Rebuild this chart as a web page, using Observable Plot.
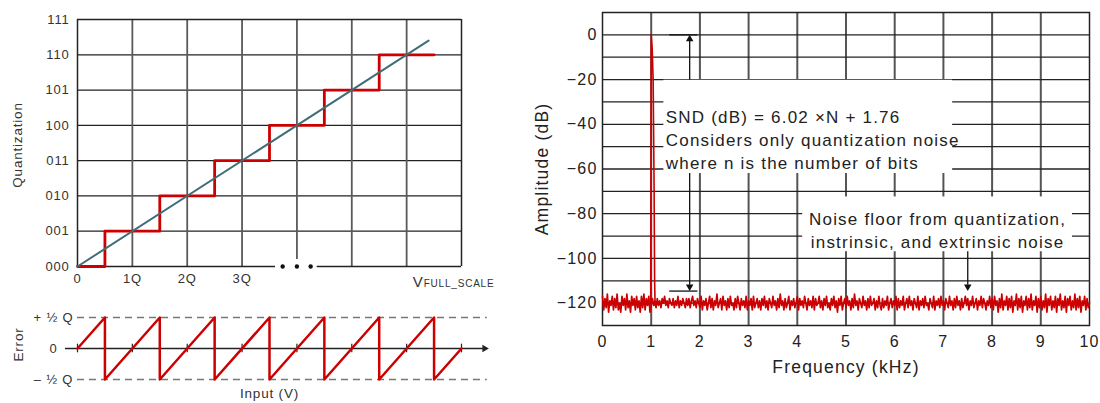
<!DOCTYPE html>
<html><head><meta charset="utf-8">
<script src="https://cdn.jsdelivr.net/npm/d3@7"></script>
<script src="https://cdn.jsdelivr.net/npm/@observablehq/plot@0.6"></script>
<style>
body{margin:0;background:#fff}
#wrap{position:relative;width:1100px;height:403px;overflow:hidden;background:#fff}
#wrap svg{position:absolute}
</style>
</head><body><div id="wrap"></div>
<script>
// ---------- data ----------
const quantLevels = ["000","001","010","011","100","101","110","111"];
const inputTickLabels = ["0","1Q","2Q","3Q"];
const stairX = [0, 0.5, 1.5, 2.5, 3.5, 4.5, 5.5, 6.5];
const stairY = [0, 1, 2, 3, 4, 5, 6, 6];
const idealX = [0, 6.4];
const idealY = [0, 6.4];
const errX = [0,0.5,0.5,1.5,1.5,2.5,2.5,3.5,3.5,4.5,4.5,5.5,5.5,6.5,6.5,7];
const errY = [0,0.5,-0.5,0.5,-0.5,0.5,-0.5,0.5,-0.5,0.5,-0.5,0.5,-0.5,0.5,-0.5,0];
const errTickValues = [0.5, 0, -0.5];
const errTickLabels = ["+ \u00bd Q", "0", "\u2013 \u00bd Q"];
const freqTicks = [0,1,2,3,4,5,6,7,8,9,10];
const ampTicks = [0,-20,-40,-60,-80,-100,-120];
const binWidth = 0.025; // kHz per FFT bin
const noiseDb = [
-117,-123,-118,-122,-116,-124,-119,-121,-117,-123,
-118,-122,-116,-123,-120,-124,-117,-121,-118,-123,
-116,-122,-119,-124,-117,-121,-118,-123,-117,-122,
-119,-124,-117,-122,-116,-123,-118,-121,-117,-124,
-121,-118,-121,-119,-122,-118,-121,-119,-122,-118,
-120,-117,-121,-119,-122,-118,-120,-121,-118,-122,
-119,-121,-117,-122,-119,-121,-118,-120,-122,-118,
-121,-118,-122,-119,-117,-121,-119,-122,-118,-120,
-122,-117,-123,-119,-121,-118,-123,-120,-117,-122,
-118,-123,-119,-121,-116,-122,-120,-118,-123,-117,
-121,-119,-123,-118,-122,-117,-121,-120,-123,-118,
-122,-117,-120,-123,-118,-121,-119,-122,-117,-123,
-119,-121,-118,-123,-117,-122,-120,-118,-122,-119,
-123,-118,-121,-117,-122,-119,-123,-118,-120,-122,
-117,-121,-119,-123,-118,-122,-116,-121,-119,-123,
-118,-122,-120,-117,-123,-119,-121,-118,-122,-120,
-117,-123,-118,-121,-119,-122,-117,-120,-123,-118,
-121,-119,-122,-117,-123,-118,-121,-120,-117,-122,
-119,-123,-118,-121,-117,-122,-120,-123,-118,-121,
-117,-122,-119,-124,-118,-121,-117,-123,-120,-118,
-122,-117,-121,-119,-123,-118,-122,-116,-121,-119,
-123,-118,-120,-122,-117,-121,-119,-123,-118,-122,
-117,-121,-120,-118,-123,-119,-122,-117,-121,-123,
-118,-122,-119,-121,-117,-123,-120,-118,-122,-119,
-121,-117,-123,-118,-122,-119,-121,-117,-123,-120,
-118,-122,-117,-121,-119,-123,-118,-120,-122,-117,
-123,-119,-121,-118,-122,-117,-121,-120,-123,-118,
-120,-122,-117,-123,-119,-121,-118,-122,-117,-121,
-119,-123,-118,-120,-122,-117,-121,-119,-123,-118,
-122,-117,-121,-119,-123,-118,-122,-120,-117,-121,
-118,-123,-119,-121,-117,-122,-120,-118,-123,-119,
-121,-117,-122,-118,-120,-123,-119,-121,-117,-122,
-118,-123,-117,-121,-119,-124,-118,-122,-116,-123,
-119,-121,-117,-123,-118,-122,-117,-124,-119,-121,
-116,-123,-118,-122,-117,-124,-119,-121,-117,-123,
-118,-122,-116,-123,-119,-121,-117,-124,-118,-122,
-117,-123,-119,-122,-116,-124,-118,-121,-117,-123,
-119,-122,-117,-124,-118,-121,-116,-123,-119,-122,
-117,-124,-118,-121,-117,-123,-119,-122,-116,-123,
-118,-122,-117,-124,-119,-121,-117,-123,-118,-122,
-120
];
const spikeFreq = [0.99, 1.0, 1.02, 1.04, 1.06, 1.07, 1.08];
const spikeDb   = [-120, 0, -6, -20, -70, -110, -121];
const noteSnd = ["SND (dB) = 6.02 \u00d7N + 1.76", "Considers only quantization noise", "where n is the number of bits"];
const noteFloor = ["Noise floor from quantization,", "instrinsic, and extrinsic noise"];

// ---------- tables ----------
const stairs = stairX.map((x, i) => ({x, y: stairY[i]}));
const ideal = idealX.map((x, i) => ({x, y: idealY[i]}));
const err = errX.map((x, i) => ({x, y: errY[i]}));
const errTicks = errTickValues.map((v, i) => ({v, label: errTickLabels[i]}));
const noise = noiseDb.map((db, i) => ({f: i * binWidth, db}));
const spike = spikeFreq.map((f, i) => ({f, db: spikeDb[i]}));

const FONT = "'Liberation Sans', Arial, sans-serif";
const RED = "#cc0000";
const wrap = document.getElementById("wrap");

// ---------- quantization staircase ----------
const quantPlot = Plot.plot({
  width: 510, height: 290,
  marginLeft: 77, marginRight: 49, marginTop: 19, marginBottom: 24,
  x: {domain: [0, 7], axis: null},
  y: {domain: [0, 7], axis: null},
  style: {fontFamily: FONT, fontSize: "13px", letterSpacing: "0.8px", color: "#333", background: "transparent", overflow: "visible"},
  marks: [
    Plot.ruleY([1,2,3,4,5,6], {stroke: "#222", strokeWidth: 1.3}),
    Plot.ruleX([1,2,3,5,6], {stroke: "#5a5a5a", strokeWidth: 1.8}),
    Plot.ruleX([4], {y1: 0.2, y2: 7, stroke: "#5a5a5a", strokeWidth: 1.8}),
    Plot.ruleX([0,7], {stroke: "#222", strokeWidth: 1.5}),
    Plot.ruleY([7], {stroke: "#222", strokeWidth: 1.5}),
    Plot.ruleY([0, 0], {x1: [0, 4.37], x2: [3.61, 7], stroke: "#222", strokeWidth: 1.5}),
    Plot.dot([3.74, 4, 4.25], {x: d => d, y: () => 0, r: 2.2, fill: "#111", stroke: null}),
    Plot.line(stairs, {x: "x", y: "y", curve: "step-after", stroke: RED, strokeWidth: 2.8}),
    Plot.line(ideal, {x: "x", y: "y", stroke: "#3f6e7a", strokeWidth: 2}),
    Plot.text(quantLevels, {y: (d, i) => i, text: d => d, frameAnchor: "left", textAnchor: "end", dx: -8}),
    Plot.text(inputTickLabels, {x: (d, i) => i, text: d => d, frameAnchor: "bottom", lineAnchor: "top", dy: 7}),
    Plot.text(["V"], {x: () => 6.11, text: d => d, frameAnchor: "bottom", lineAnchor: "bottom", textAnchor: "start", dy: 20, fontSize: 15, letterSpacing: "0px"}),
    Plot.text(["FULL_SCALE"], {x: () => 6.31, text: d => d, frameAnchor: "bottom", lineAnchor: "bottom", textAnchor: "start", dy: 20, fontSize: 10, letterSpacing: "0.6px"}),
    Plot.text(["Quantization"], {text: d => d, frameAnchor: "left", textAnchor: "middle", rotate: -90, dx: -60, dy: 2, fontSize: 13.5})
  ]
});
quantPlot.style.left = "0px"; quantPlot.style.top = "0px";
wrap.appendChild(quantPlot);

// ---------- quantization error ----------
const errPlot = Plot.plot({
  width: 510, height: 113,
  marginLeft: 77, marginRight: 49, marginTop: 27, marginBottom: 24,
  x: {domain: [0, 7], axis: null},
  y: {domain: [-0.5, 0.5], axis: null},
  style: {fontFamily: FONT, fontSize: "13px", letterSpacing: "0.8px", color: "#333", background: "transparent", overflow: "visible"},
  marks: [
    Plot.ruleY([0.5, -0.5], {x1: 0, x2: 7.47, stroke: "#777", strokeWidth: 1.5, strokeDasharray: "7,5"}),
    Plot.ruleY([0], {x1: -0.22, x2: 7.4, stroke: "#222", strokeWidth: 1.3}),
    Plot.dot([7.42], {x: d => d, y: () => 0, symbol: "triangle", rotate: 90, r: 2.8, fill: "#222", stroke: null}),
    Plot.ruleX([0,1,2,3,4,5,6,7], {y1: -0.07, y2: 0.07, stroke: "#222", strokeWidth: 1.2}),
    Plot.line(err, {x: "x", y: "y", stroke: RED, strokeWidth: 2.5}),
    Plot.text(errTicks, {y: "v", text: "label", frameAnchor: "left", textAnchor: "middle", dx: -24}),
    Plot.text(["Error"], {text: d => d, frameAnchor: "left", textAnchor: "middle", rotate: -90, dx: -59, dy: -4, fontSize: 13.5}),
    Plot.text(["Input (V)"], {text: d => d, frameAnchor: "bottom", lineAnchor: "middle", dy: 14, fontSize: 13.5})
  ]
});
errPlot.style.left = "0px"; errPlot.style.top = "290px";
wrap.appendChild(errPlot);

// ---------- spectrum ----------
const fmtDb = d => d < 0 ? "\u2212" + Math.abs(d) : String(d);
const specPlot = Plot.plot({
  width: 580, height: 403,
  marginLeft: 82, marginRight: 11, marginTop: 12, marginBottom: 78,
  x: {domain: [0, 10], axis: null},
  y: {domain: [-130, 10], axis: null},
  style: {fontFamily: FONT, fontSize: "16px", letterSpacing: "1.2px", color: "#222", background: "transparent", overflow: "visible"},
  marks: [
    Plot.ruleX(d3.range(1, 10), {stroke: "#555", strokeWidth: 2}),
    Plot.ruleY(d3.range(-120, 10, 10), {stroke: "#222", strokeWidth: 1.3}),
    Plot.rect([0], {x1: 1.26, x2: 7.19, y1: -20.3, y2: -62, fill: "white"}),
    Plot.rect([0], {x1: 4.11, x2: 9.65, y1: -72.5, y2: -97, fill: "white"}),
    Plot.frame({stroke: "#222", strokeWidth: 1.5}),
    Plot.line(noise, {x: "f", y: "db", stroke: RED, strokeWidth: 1.7}),
    Plot.line(spike, {x: "f", y: "db", stroke: RED, strokeWidth: 1.6}),
    // SND arrow
    Plot.ruleY([0, -114.6], {x1: 1.38, x2: 1.96, stroke: "#111", strokeWidth: 1.3}),
    Plot.ruleX([1.79, 1.79], {y1: [-20.3, -62], y2: [-2, -112], stroke: "#111", strokeWidth: 1.3}),
    Plot.dot([0], {x: () => 1.79, y: () => 0, symbol: "triangle", rotate: 0, r: 2.8, dy: 4.3, fill: "#111", stroke: null}),
    Plot.dot([0], {x: () => 1.79, y: () => -114.6, symbol: "triangle", rotate: 180, r: 2.8, dy: -4.3, fill: "#111", stroke: null}),
    // noise floor arrow
    Plot.ruleX([7.5], {y1: -97, y2: -112, stroke: "#111", strokeWidth: 1.3}),
    Plot.dot([0], {x: () => 7.5, y: () => -114.6, symbol: "triangle", rotate: 180, r: 2.8, dy: -4.3, fill: "#111", stroke: null}),
    Plot.text([noteSnd.join("\n")], {x: () => 1.3, y: () => -32.3, text: d => d, textAnchor: "start", lineAnchor: "top", lineHeight: 1.35, fontSize: 17, letterSpacing: "0.2px"}),
    Plot.text([noteFloor.join("\n")], {x: () => 6.88, y: () => -77.8, text: d => d, textAnchor: "middle", lineAnchor: "top", lineHeight: 1.35, fontSize: 17, letterSpacing: "0.2px"}),
    Plot.text(ampTicks, {y: d => d, text: fmtDb, frameAnchor: "left", textAnchor: "end", dx: -5}),
    Plot.text(freqTicks, {x: d => d, text: d => String(d), frameAnchor: "bottom", lineAnchor: "top", dy: 10}),
    Plot.text(["Frequency (kHz)"], {text: d => d, frameAnchor: "bottom", lineAnchor: "middle", dy: 42, fontSize: 17.5, letterSpacing: "1px"}),
    Plot.text(["Amplitude (dB)"], {text: d => d, frameAnchor: "left", textAnchor: "middle", rotate: -90, dx: -60, fontSize: 17.5, letterSpacing: "1px"})
  ]
});
specPlot.style.left = "520px"; specPlot.style.top = "0px";
wrap.appendChild(specPlot);
</script></body></html>
